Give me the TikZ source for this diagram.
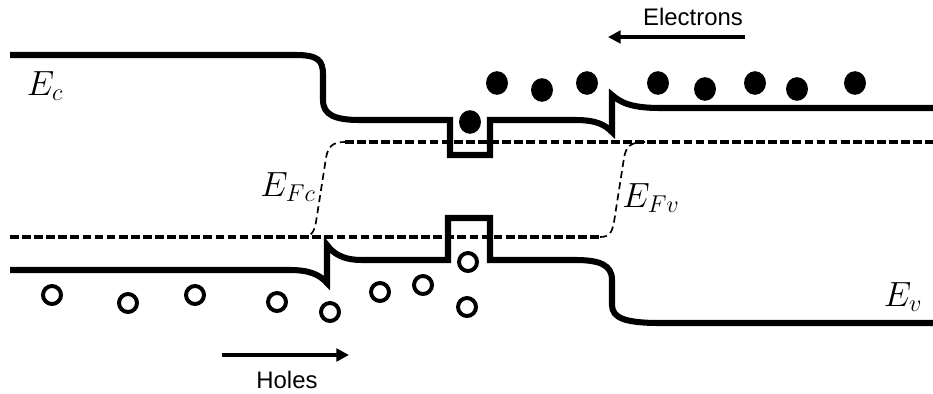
\documentclass[tikz,border=0pt]{standalone}
\usepackage{fontspec}
\setsansfont{Liberation Sans}
\usepackage{tikz}
\usetikzlibrary{arrows.meta}
\tikzset{
  band/.style={line width=4.3pt},
  fermi/.style={line width=2.5pt, dash pattern=on 6.2pt off 2.4pt},
  quasi/.style={line width=1.2pt, dash pattern=on 5pt off 3pt},
  electron/.style={fill=black},
  hole/.style={draw=black, line width=2.8pt},
  flow/.style={-{Triangle[length=9pt,width=9pt]}, line width=2.4pt},
  carrierlabel/.style={font=\sffamily\fontsize{17}{20}\selectfont},
  levellabel/.style={font=\fontsize{23}{27}\selectfont}
}

\begin{document}
\begin{tikzpicture}[x=0.025cm, y=-0.025cm]
  \useasboundingbox (0,0) rectangle (933,394);

  % Conduction band with well and spike
  \draw[band] (10,55) -- (295,55) .. controls (318,55) and (323,60) .. (323,75) -- (323,100)
    .. controls (323,115) and (335,120) .. (360,120) -- (450,120) -- (450,155) -- (490,155) -- (490,120)
    -- (575,120) .. controls (597,120) and (605,125) .. (612,132) -- (612,95)
    .. controls (620,102) and (630,108) .. (660,108) -- (933,108);

  % Valence band
  \draw[band] (10,270) -- (290,270) .. controls (310,270) and (320,275) .. (327,283) -- (327,245)
    .. controls (333,253) and (342,260) .. (362,260) -- (448,260) -- (448,218) -- (490,218) -- (490,260)
    -- (575,260) .. controls (600,260) and (612,265) .. (612,280) -- (612,305)
    .. controls (612,318) and (625,323) .. (660,323) -- (933,323);

  % Quasi-Fermi levels
  \draw[fermi] (10,237) -- (600,237);
  \draw[fermi] (345,142) -- (933,142);
  \draw[quasi] (300,237) .. controls (312,237) and (314,232) .. (316,222) -- (326,158)
    .. controls (328,146) and (333,142) .. (345,142);
  \draw[quasi] (600,237) .. controls (610,237) and (612,232) .. (614,222) -- (624,158)
    .. controls (626,146) and (631,142) .. (645,142);

  % Electrons and holes
  \foreach \x/\y in {470/122, 497/83, 542/90, 587/83, 658/83, 705/89, 755/83, 797/89, 855/83}
    \fill[electron] (\x,\y) ellipse [x radius=7.8pt, y radius=8.4pt];
  \foreach \x/\y in {52/295, 128/303, 195/295, 277/302, 330/312, 380/292, 423/285, 468/262, 467/307}
    \draw[hole] (\x,\y) circle [radius=6.4pt];

  % Level labels
  \node[levellabel] (Ec) at (45,86) {$E_c$};
  \node[levellabel] (EFc) at (288,187) {$E_{Fc}$};
  \node[levellabel] (EFv) at (651,198) {$E_{Fv}$};
  \node[levellabel] (Ev) at (903,297) {$E_v$};

  % Carrier flow
  \coordinate (eTail) at (745,37);
  \coordinate (eHead) at (608,37);
  \draw[flow] (eTail) -- (eHead);
  \node[carrierlabel] (electrons) at (693,17) {Electrons};

  \coordinate (hTail) at (222,355);
  \coordinate (hHead) at (349,355);
  \draw[flow] (hTail) -- (hHead);
  \node[carrierlabel] (holes) at (287,380) {Holes};
\end{tikzpicture}
\end{document}
